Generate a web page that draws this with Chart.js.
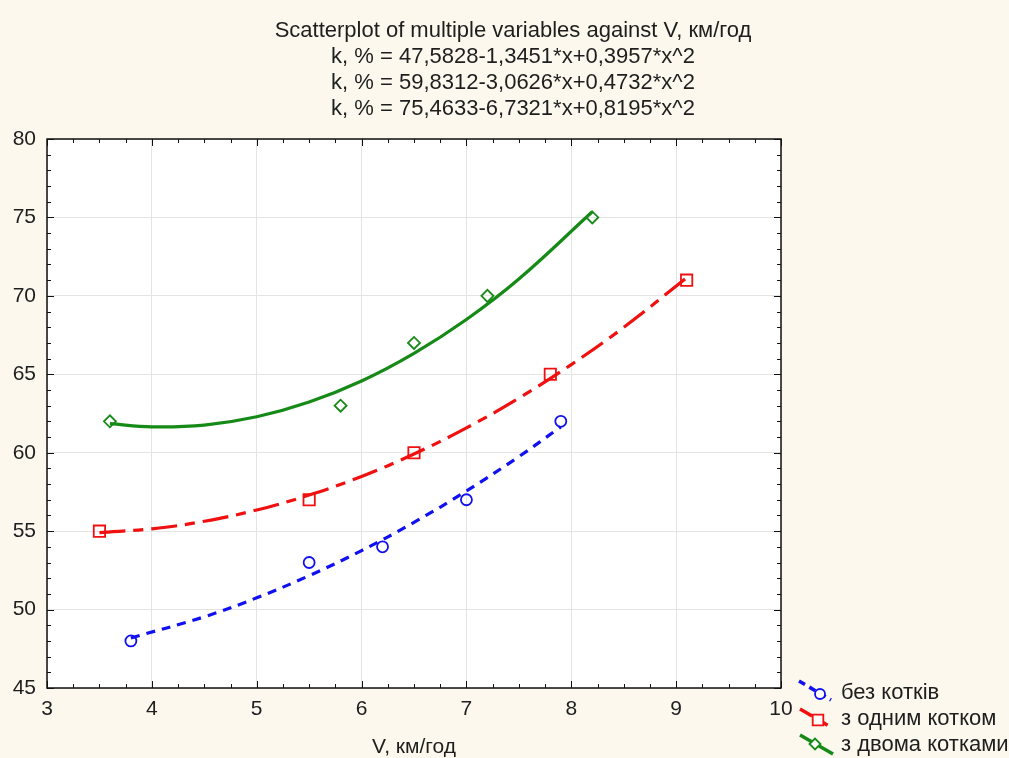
<!DOCTYPE html>
<html><head><meta charset="utf-8">
<script src="https://cdn.jsdelivr.net/npm/chart.js@4/dist/chart.umd.min.js"></script>
<style>html,body{margin:0;padding:0;background:#fcf8ee;}#wrap{width:1009px;height:758px;}</style>
</head><body><div id="wrap"><canvas id="c" width="1009" height="758"></canvas></div>
<script>
// ---- data ----
const titleLines = [
  'Scatterplot of multiple variables against V, км/год',
  'k, % = 47,5828-1,3451*x+0,3957*x^2',
  'k, % = 59,8312-3,0626*x+0,4732*x^2',
  'k, % = 75,4633-6,7321*x+0,8195*x^2'
];
const xAxisTitle = 'V, км/год';
const seriesNames = ['без котків', 'з одним котком', 'з двома котками'];
const xTickValues = [3, 4, 5, 6, 7, 8, 9, 10];
const yTickValues = [45, 50, 55, 60, 65, 70, 75, 80];

// observed points
const obsX1 = [3.8, 5.5, 6.2, 7.0, 7.9];
const obsY1 = [48, 53, 54, 57, 62];
const obsX2 = [3.5, 5.5, 6.5, 7.8, 9.1];
const obsY2 = [55, 57, 60, 65, 71];
const obsX3 = [3.6, 5.8, 6.5, 7.2, 8.2];
const obsY3 = [62, 63, 67, 70, 75];

// fitted curves
const fitX1 = [3.8, 4.5, 5.0, 5.5, 6.0, 6.5, 7.0, 7.5, 7.9];
const fitY1 = [48.19, 49.54, 50.75, 52.16, 53.76, 55.56, 57.56, 59.75, 61.65];
const fitX2 = [3.5, 4.0, 4.5, 5.0, 5.5, 6.0, 6.5, 7.0, 7.5, 8.0, 8.5, 9.1];
const fitY2 = [54.91, 55.15, 55.63, 56.35, 57.30, 58.49, 59.92, 61.58, 63.48, 65.62, 67.99, 71.15];
const fitX3 = [3.6, 4.0, 4.5, 5.0, 5.5, 6.0, 6.5, 7.0, 7.5, 8.2];
const fitY3 = [61.85, 61.65, 61.76, 62.29, 63.23, 64.57, 66.33, 68.49, 71.07, 75.36];

// ---- styles ----
const FONT = 'Liberation Sans, Arial, sans-serif';
const TXT = '#1e1e1e';
const colors = ['#1010f0', '#f01010', '#168a16'];
const dashes = [[9, 7], [26, 8, 10, 8], []];
const pstyles = ['circle', 'rect', 'rectRot'];
const pradius = [5.5, 8, 6];

const zip = (xs, ys) => xs.map((x, i) => ({x: x, y: ys[i]}));
const obs = [[obsX1, obsY1], [obsX2, obsY2], [obsX3, obsY3]];
const fits = [[fitX1, fitY1], [fitX2, fitY2], [fitX3, fitY3]];

const datasets = [];
fits.forEach((f, i) => datasets.push({
  label: seriesNames[i], data: zip(f[0], f[1]), showLine: true,
  borderColor: colors[i], borderWidth: 3.2, borderDash: dashes[i],
  pointRadius: 0, tension: 0.4, fill: false, order: 2
}));
obs.forEach((o, i) => datasets.push({
  label: seriesNames[i] + ' pts', data: zip(o[0], o[1]), showLine: false,
  pointStyle: pstyles[i], pointRadius: pradius[i], pointBorderWidth: 1.8,
  pointBorderColor: colors[i], pointBackgroundColor: 'rgba(0,0,0,0)', order: 1
}));

const frame = {
  id: 'frame',
  beforeDraw(chart) {
    const c = chart.ctx, a = chart.chartArea;
    c.save();
    c.fillStyle = '#fcf8ee';
    c.fillRect(0, 0, chart.width, chart.height);
    c.fillStyle = '#ffffff';
    c.fillRect(a.left, a.top, a.right - a.left, a.bottom - a.top);
    c.restore();
  },
  afterDatasetsDraw(chart) {
    const c = chart.ctx, a = chart.chartArea;
    const xs = chart.scales.x, ys = chart.scales.y;
    c.save();
    c.strokeStyle = '#111';
    c.lineWidth = 1.5;
    c.strokeRect(a.left, a.top, a.right - a.left, a.bottom - a.top);
    c.lineWidth = 1;
    c.beginPath();
    for (let v = xs.min; v <= xs.max + 1e-9; v += 0.25) {
      const p = Math.round(xs.getPixelForValue(v)) + 0.5;
      const L = Math.abs(v - Math.round(v)) < 1e-9 ? 7 : 4;
      c.moveTo(p, a.bottom); c.lineTo(p, a.bottom - L);
      c.moveTo(p, a.top); c.lineTo(p, a.top + L);
    }
    for (let v = ys.min; v <= ys.max + 1e-9; v += 1) {
      const p = Math.round(ys.getPixelForValue(v)) + 0.5;
      const L = v % 5 === 0 ? 7 : 4;
      c.moveTo(a.left, p); c.lineTo(a.left + L, p);
      c.moveTo(a.right, p); c.lineTo(a.right - L, p);
    }
    c.stroke();
    c.restore();
  },
  afterDraw(chart) {
    const c = chart.ctx;
    c.save();
    // title
    c.fillStyle = TXT;
    c.font = '22px ' + FONT;
    c.textBaseline = 'middle';
    c.textAlign = 'center';
    titleLines.forEach((t, i) => c.fillText(t, 513, 31 + 26 * i));
    // legend
    const rows = [
      {x1: 799, y1: 681, x2: 831, y2: 700, mx: 820, my: 694, ty: 693},
      {x1: 800, y1: 709, x2: 829, y2: 726, mx: 818, my: 720, ty: 719},
      {x1: 800, y1: 735, x2: 833, y2: 754, mx: 815, my: 744, ty: 745}
    ];
    rows.forEach((r, i) => {
      c.strokeStyle = colors[i];
      c.lineWidth = 3.5;
      c.setLineDash(i === 0 ? [7, 5] : (i === 1 ? [14, 4] : []));
      c.beginPath(); c.moveTo(r.x1, r.y1); c.lineTo(r.x2, r.y2); c.stroke();
      c.setLineDash([]);
      c.lineWidth = 1.8;
      c.fillStyle = '#ffffff';
      c.strokeStyle = colors[i];
      Chart.helpers.drawPoint(c, {pointStyle: pstyles[i], radius: pradius[i] - 0.5, borderWidth: 1.8}, r.mx, r.my);
      c.fillStyle = TXT;
      c.font = '22px ' + FONT;
      c.textBaseline = 'middle';
      c.textAlign = 'left';
      c.fillText(seriesNames[i], 841, r.ty);
    });
    c.restore();
  }
};

new Chart(document.getElementById('c'), {
  type: 'scatter',
  data: {datasets: datasets},
  plugins: [frame],
  options: {
    responsive: false, animation: false, devicePixelRatio: 1,
    layout: {padding: {left: 0, right: 0, top: 139, bottom: 0}},
    plugins: {
      legend: {display: false}, tooltip: {enabled: false}, title: {display: false}
    },
    scales: {
      x: {type: 'linear', min: 3, max: 10,
        afterFit(s) { s.height = 70; },
        afterBuildTicks(s) { s.ticks = xTickValues.map(v => ({value: v})); },
        grid: {color: '#e4e4e4', lineWidth: 1, drawTicks: false},
        border: {display: false},
        ticks: {color: TXT, font: {family: FONT, size: 21}, padding: 9, maxRotation: 0},
        title: {display: true, text: xAxisTitle, color: TXT,
          font: {family: FONT, size: 21}, padding: {top: 0, bottom: -2}}
      },
      y: {type: 'linear', min: 45, max: 80,
        afterFit(s) { s.width = 47; },
        afterBuildTicks(s) { s.ticks = yTickValues.map(v => ({value: v})); },
        grid: {color: '#e4e4e4', lineWidth: 1, drawTicks: false},
        border: {display: false},
        ticks: {color: TXT, font: {family: FONT, size: 21}, padding: 11}
      },
      yR: {type: 'linear', position: 'right', min: 45, max: 80, display: true,
        afterFit(s) { s.width = 228; },
        grid: {display: false, drawTicks: false},
        border: {display: false},
        ticks: {display: false}
      }
    }
  }
});
</script></body></html>
